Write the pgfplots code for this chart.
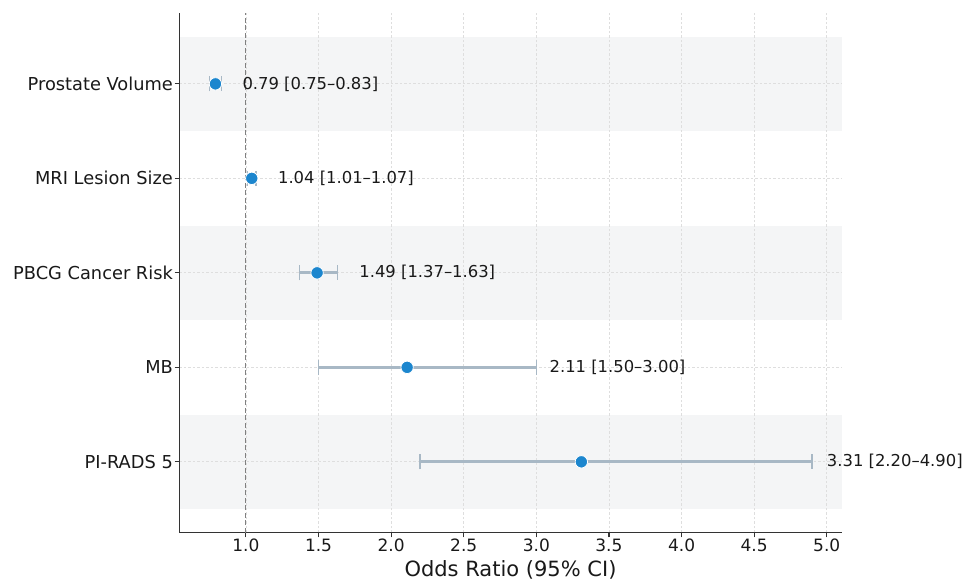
\documentclass[border=0pt]{standalone}
\usepackage{fontspec}
\setmainfont{DejaVu Sans}
\usepackage{pgfplots}
\usepackage{pgfplotstable}
\pgfplotsset{compat=1.18}
\definecolor{bandgray}{HTML}{F4F5F6}
\definecolor{errcol}{HTML}{A8B8C5}
\definecolor{ptblue}{HTML}{1C86CE}
\definecolor{gridcol}{HTML}{DEDEDE}
\definecolor{spine}{HTML}{333333}
\definecolor{refline}{HTML}{808080}
\pgfplotstableread{
y or lo hi
0 3.31 2.20 4.90
1 2.11 1.50 3.00
2 1.49 1.37 1.63
3 1.04 1.01 1.07
4 0.79 0.75 0.83
}\datatab
\begin{document}
\begin{tikzpicture}
\begin{axis}[
  at={(0,0)}, anchor=south west,
  set layers, clip=false,
  width=662.4pt, height=519.7pt, scale only axis,
  xmin=0.541, xmax=5.103, ymin=-0.75, ymax=4.75,
  axis x line*=bottom, axis y line*=left,
  axis line style={line width=1.4pt, color=spine},
  tick align=outside, major tick length=4.7pt,
  tick style={line width=1.1pt, color=spine},
  xtick={1.0,1.5,...,5.0},
  ytick={0,1,2,3,4},
  yticklabels={PI-RADS 5, MB, PBCG Cancer Risk, MRI Lesion Size, Prostate Volume},
  xticklabel style={inner sep=1.5pt, font=\fontsize{17}{19}\selectfont, color=black!90},
  yticklabel style={inner sep=1.5pt, font=\fontsize{17.8}{20}\selectfont, color=black!90},
  /pgf/number format/assume math mode=true,
  x tick label style={/pgf/number format/.cd, fixed, fixed zerofill, precision=1},
  grid=major,
  major grid style={dash pattern=on 2.5pt off 2pt, color=gridcol, line width=0.8pt},
  xlabel={Odds Ratio (95\% CI)},
  xlabel style={at={(axis description cs:0.5,0)}, anchor=base, yshift=-44pt, font=\fontsize{21}{24}\selectfont, color=black!90},
]
% background bands
\addplot[fill=bandgray, draw=none, on layer=axis background] coordinates {(0.541,-0.5) (5.103,-0.5) (5.103,0.5) (0.541,0.5)} -- cycle;
\addplot[fill=bandgray, draw=none, on layer=axis background] coordinates {(0.541,1.5) (5.103,1.5) (5.103,2.5) (0.541,2.5)} -- cycle;
\addplot[fill=bandgray, draw=none, on layer=axis background] coordinates {(0.541,3.5) (5.103,3.5) (5.103,4.5) (0.541,4.5)} -- cycle;
% reference line
\addplot[color=refline, line width=1.1pt, dash pattern=on 5pt off 2.5pt] coordinates {(1,-0.75) (1,4.75)};
% error bars
\addplot[draw=none, mark=none,
  error bars/.cd, x dir=both, x explicit,
  error bar style={line width=2.7pt, color=errcol},
  error mark=|, error mark options={line width=1.5pt, color=errcol, mark size=7.5pt}]
  table[x=or, y=y, x error plus expr=\thisrow{hi}-\thisrow{or}, x error minus expr=\thisrow{or}-\thisrow{lo}] {\datatab};
% points
\addplot[only marks, mark=*, mark size=6.2pt, mark options={fill=ptblue, draw=white, line width=0.8pt}]
  table[x=or, y=y] {\datatab};
% annotations
\node[anchor=west, inner sep=0pt, font=\fontsize{16.4}{18}\selectfont, text=black!90] at (axis cs:0.975,4) {0.79 [0.75–0.83]};
\node[anchor=west, inner sep=0pt, font=\fontsize{16.4}{18}\selectfont, text=black!90] at (axis cs:1.22,3) {1.04 [1.01–1.07]};
\node[anchor=west, inner sep=0pt, font=\fontsize{16.4}{18}\selectfont, text=black!90] at (axis cs:1.78,2) {1.49 [1.37–1.63]};
\node[anchor=west, inner sep=0pt, font=\fontsize{16.4}{18}\selectfont, text=black!90] at (axis cs:3.09,1) {2.11 [1.50–3.00]};
\node[anchor=west, inner sep=0pt, font=\fontsize{16.4}{18}\selectfont, text=black!90] at (axis cs:5.0,0) {3.31 [2.20–4.90]};
\end{axis}
\path (-179.3pt,-47.3pt) rectangle (785.7pt,532.7pt);
\end{tikzpicture}
\end{document}
